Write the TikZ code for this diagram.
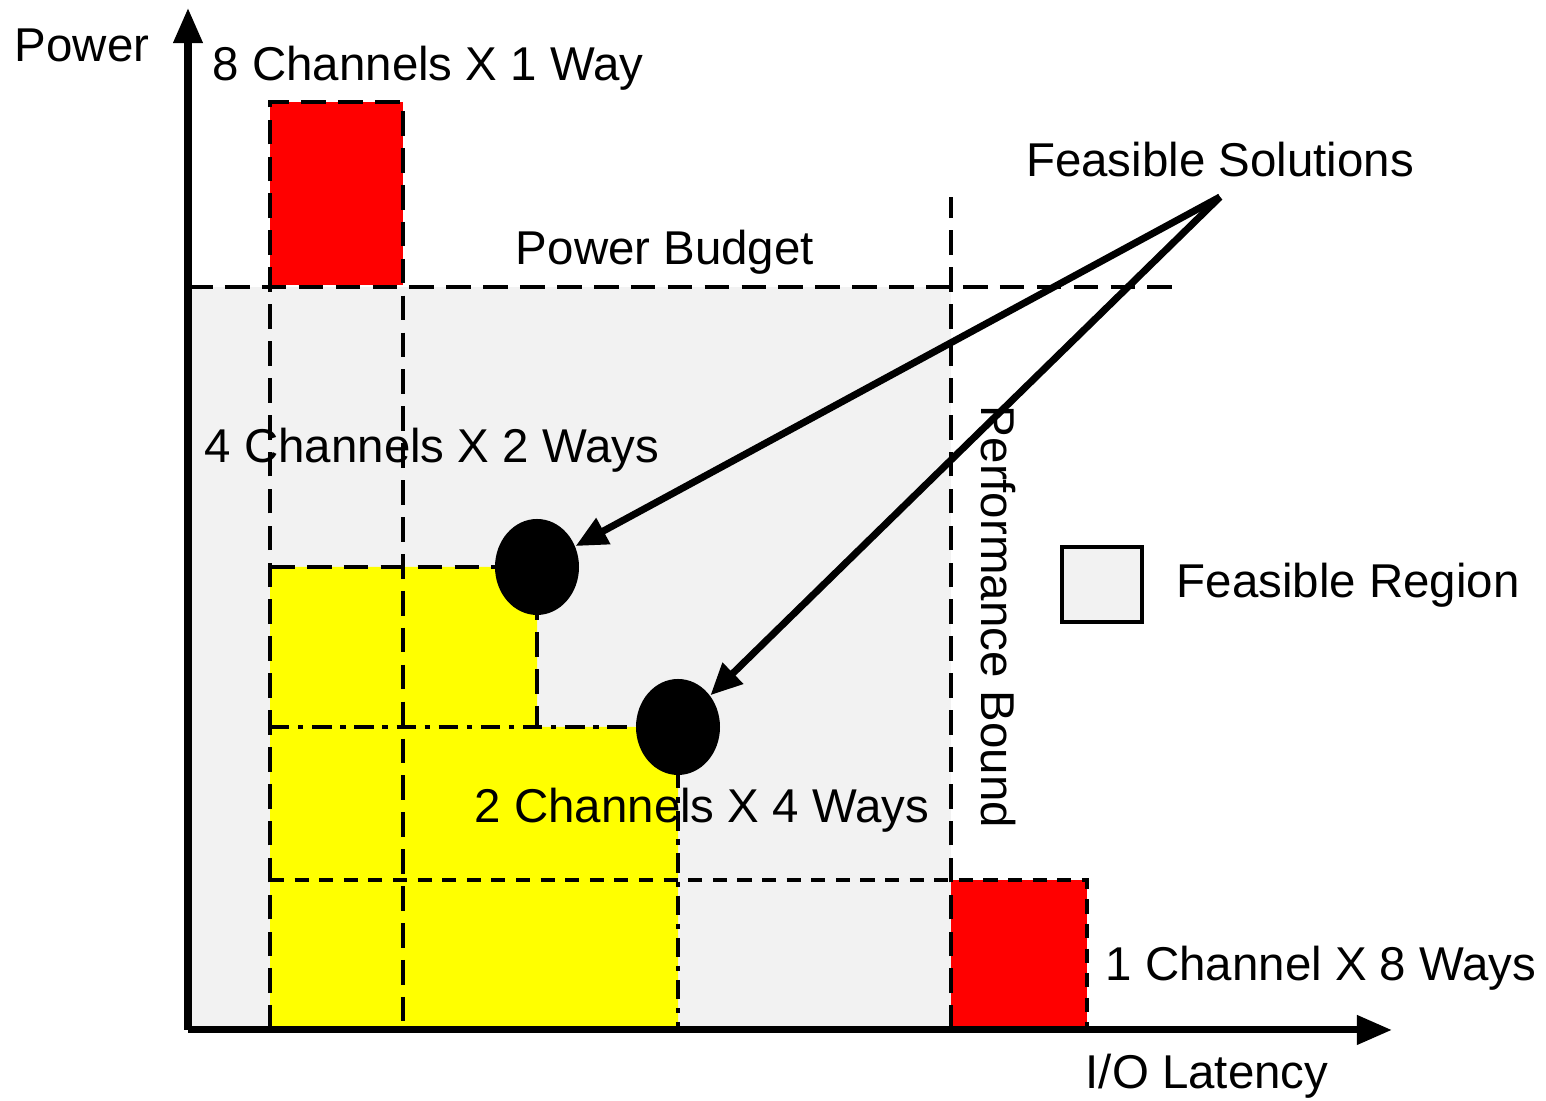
\documentclass[tikz,border=0pt]{standalone}
\usepackage{fontspec}
\setmainfont{Liberation Sans}
\usetikzlibrary{arrows.meta,shapes.geometric}

\definecolor{regiongray}{RGB}{242,242,242}
\definecolor{pureyellow}{RGB}{255,255,0}
\definecolor{purered}{RGB}{255,0,0}

\tikzset{
  lbl/.style={font=\fontsize{13.5}{16}\selectfont,inner sep=0pt},
  bigdash/.style={line width=1.4pt,dash pattern=on 7pt off 3.5pt},
  smalldash/.style={line width=1pt,dash pattern=on 4pt off 3pt},
  dashdot/.style={line width=1.2pt,dash pattern=on 5.5pt off 2.5pt on 1.5pt off 2.5pt},
  solution/.style={ellipse,fill=black,minimum width=0.84cm,minimum height=0.96cm,inner sep=0pt},
  pointer/.style={line width=2pt,-{Triangle[length=9pt,width=8pt]}}
}

\begin{document}
\begin{tikzpicture}
  \useasboundingbox (0,0) rectangle (15.46,11.01);

  % regions
  \fill[regiongray] (1.88,0.71) rectangle (9.51,8.14);
  \fill[pureyellow] (2.70,0.71) -- (2.70,5.34) -- (5.37,5.34) -- (5.37,3.74)
    -- (6.78,3.74) -- (6.78,0.71) -- cycle;
  \fill[purered] (2.70,8.16) rectangle (4.03,9.99);
  \fill[purered] (9.51,0.71) rectangle (10.87,2.21);

  % labels inside the plot
  \node[lbl,anchor=west] (fourch) at (2.04,6.51) {4 Channels X 2 Ways};
  \node[lbl,anchor=west] (twoch) at (4.74,2.91) {2 Channels X 4 Ways};

  % bounds and grid lines
  \draw[bigdash] (1.88,8.14) -- (11.80,8.14);
  \draw[bigdash] (9.51,0.71) -- (9.51,9.04);
  \draw[bigdash] (2.70,0.71) -- (2.70,9.99) -- (4.03,9.99) -- (4.03,0.71);
  \draw[bigdash] (2.70,5.34) -- (5.37,5.34) -- (5.37,3.74);
  \draw[dashdot] (2.70,3.74) -- (6.78,3.74);
  \draw[dashdot] (6.78,3.74) -- (6.78,0.71);
  \draw[smalldash] (2.70,2.21) -- (10.87,2.21) -- (10.87,0.71);

  % axes
  \draw[line width=2pt,-{Triangle[length=10pt,width=8pt]}] (1.88,0.71) -- (1.88,10.93);
  \draw[line width=2pt,-{Triangle[length=10pt,width=8pt]}] (1.88,0.71) -- (13.92,0.71);

  % solutions
  \node[solution] (sol1) at (5.37,5.34) {};
  \node[solution] (sol2) at (6.78,3.74) {};
  \coordinate (apex) at (12.20,9.04);
  \draw[pointer,line join=miter] (apex) -- (sol1);
  \draw[pointer] (apex) -- (sol2);

  % legend
  \draw[line width=1.1pt,fill=regiongray] (10.62,4.79) rectangle (11.42,5.54);
  \node[lbl,anchor=west] (legend) at (11.76,5.16) {Feasible Region};

  % texts
  \node[lbl] (power) at (0.82,10.56) {Power};
  \node[lbl,anchor=west] (eightch) at (2.12,10.33) {8 Channels X 1 Way};
  \node[lbl] (feasible) at (12.20,9.41) {Feasible Solutions};
  \node[lbl] (budget) at (6.65,8.49) {Power Budget};
  \node[lbl,rotate=-90] (perf) at (9.98,4.84) {Performance Bound};
  \node[lbl,anchor=west] (onech) at (11.05,1.33) {1 Channel X 8 Ways};
  \node[lbl] (latency) at (12.07,0.25) {I/O Latency};
\end{tikzpicture}
\end{document}
